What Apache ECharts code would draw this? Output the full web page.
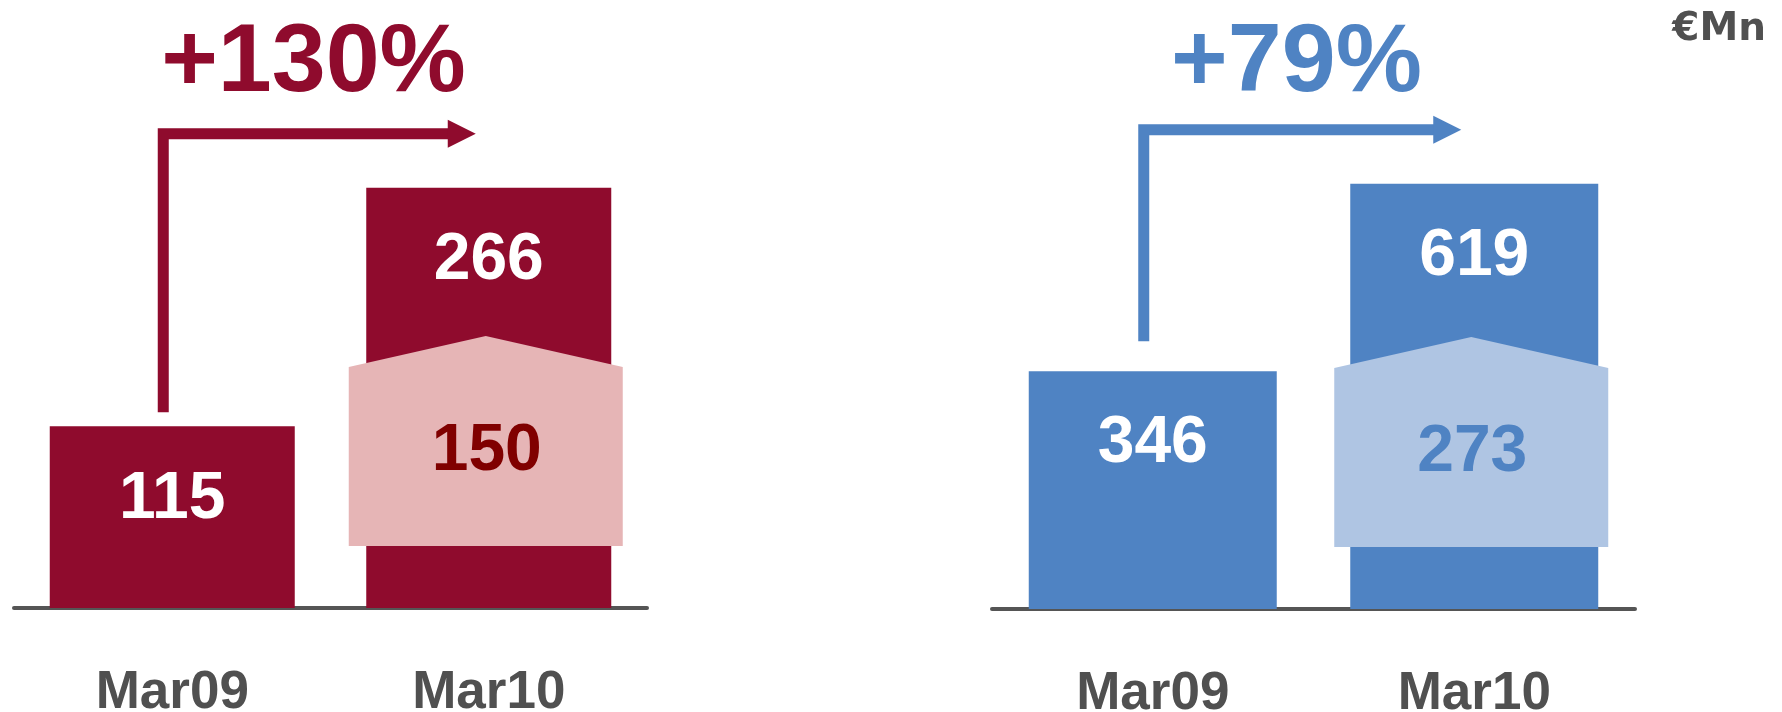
<!DOCTYPE html>
<html>
<head>
<meta charset="utf-8">
<title>Mar09 vs Mar10</title>
<script src="https://cdn.jsdelivr.net/npm/echarts@6/dist/echarts.min.js"></script>
<style>
  html, body { margin: 0; padding: 0; background: #fff; }
  #main { width: 1782px; height: 712px; }
</style>
</head>
<body>
<div id="main"></div>
<script>
var categories = ['Mar09', 'Mar10'];
var leftValues = [115, 266];
var rightValues = [346, 619];
var leftInner = 150;   // part of Mar10, left panel
var rightInner = 273;  // part of Mar10, right panel
var growthLabels = ['+130%', '+79%'];
var yMax = [300, 700];

var RED = '#8F0B2D', PINK = '#E6B5B6', DARKRED = '#800000';
var BLUE = '#4F83C3', LIGHTBLUE = '#AFC5E3';
var GREY = '#505050';
var FONT = '"Liberation Sans", Arial, sans-serif';

var chart = echarts.init(document.getElementById('main'));

function barLabel() {
  return {
    show: true,
    position: ['50%', 73],
    align: 'center',
    verticalAlign: 'middle',
    color: '#fff',
    fontFamily: FONT,
    fontWeight: 'bold',
    fontSize: 66
  };
}

// light "house" shape sitting on the Mar10 bar
function houseRender(fill, textColor) {
  return function (params, api) {
    var p = api.coord([api.value(0), 0]);
    var cx = p[0] - 3, base = p[1];
    var half = 137;
    return {
      type: 'group',
      children: [{
        type: 'polygon',
        shape: { points: [
          [cx - half, base - 62], [cx - half, base - 241], [cx, base - 272],
          [cx + half, base - 241], [cx + half, base - 62]
        ] },
        style: { fill: fill }
      }, {
        type: 'text',
        style: {
          text: String(api.value(1)),
          x: cx + 1, y: base - 156,
          align: 'center', verticalAlign: 'middle',
          fill: textColor,
          font: 'bold 66px ' + FONT
        }
      }]
    };
  };
}

// elbow arrow from Mar09 to Mar10 with growth label
function arrowRender(color, gap, label) {
  return function (params, api) {
    var a = api.coord([api.value(0), api.value(1)]);
    var b = api.coord([api.value(2), api.value(3)]);
    var x0 = a[0] - 9, yb = a[1] - gap;
    var ys = b[1] - 54;
    var tip = b[0] - 13, hb = tip - 28;
    return {
      type: 'group',
      children: [{
        type: 'polyline',
        shape: { points: [[x0, yb], [x0, ys], [hb + 1, ys]] },
        style: { stroke: color, lineWidth: 11, fill: null, lineJoin: 'miter', lineCap: 'butt' }
      }, {
        type: 'polygon',
        shape: { points: [[hb, ys - 14], [tip, ys], [hb, ys + 14]] },
        style: { fill: color }
      }, {
        type: 'text',
        style: {
          text: label,
          x: (x0 + tip) / 2 - 6, y: 64,
          align: 'center', verticalAlign: 'middle',
          fill: color,
          font: 'bold 97px ' + FONT
        }
      }]
    };
  };
}

function xAxis(idx) {
  return {
    type: 'category',
    gridIndex: idx,
    data: categories,
    axisLine: { lineStyle: { color: '#555555', width: 4, cap: 'round' } },
    axisTick: { show: false },
    axisLabel: {
      margin: 85,
      verticalAlign: 'middle',
      color: GREY,
      fontFamily: FONT,
      fontWeight: 'bold',
      fontSize: 53
    }
  };
}

function yAxis(idx) {
  return {
    type: 'value',
    gridIndex: idx,
    min: 0,
    max: yMax[idx],
    show: false,
    splitLine: { show: false }
  };
}

var option = {
  backgroundColor: '#fff',
  animation: false,
  grid: [
    { left: 14, width: 633, top: 134, bottom: 104, outerBoundsMode: 'none', containLabel: false },
    { left: 992, width: 643, top: 128, bottom: 103, outerBoundsMode: 'none', containLabel: false }
  ],
  xAxis: [xAxis(0), xAxis(1)],
  yAxis: [yAxis(0), yAxis(1)],
  graphic: [{
    type: 'text',
    right: 16, top: 10,
    style: { text: '€Mn', fill: GREY, font: 'bold 39px "DejaVu Sans", sans-serif' }
  }],
  series: [
    {
      type: 'bar', xAxisIndex: 0, yAxisIndex: 0,
      data: leftValues, barWidth: 245,
      itemStyle: { color: RED },
      label: barLabel()
    },
    {
      type: 'bar', xAxisIndex: 1, yAxisIndex: 1,
      data: rightValues, barWidth: 248,
      itemStyle: { color: BLUE },
      label: barLabel()
    },
    {
      type: 'custom', xAxisIndex: 0, yAxisIndex: 0,
      data: [[1, leftInner]],
      renderItem: houseRender(PINK, DARKRED), z: 3
    },
    {
      type: 'custom', xAxisIndex: 1, yAxisIndex: 1,
      data: [[1, rightInner]],
      renderItem: houseRender(LIGHTBLUE, BLUE), z: 3
    },
    {
      type: 'custom', xAxisIndex: 0, yAxisIndex: 0,
      data: [[0, leftValues[0], 1, leftValues[1]]],
      encode: { x: [0, 2], y: [1, 3] },
      renderItem: arrowRender(RED, 14, growthLabels[0]), z: 3
    },
    {
      type: 'custom', xAxisIndex: 1, yAxisIndex: 1,
      data: [[0, rightValues[0], 1, rightValues[1]]],
      encode: { x: [0, 2], y: [1, 3] },
      renderItem: arrowRender(BLUE, 30, growthLabels[1]), z: 3
    }
  ]
};

chart.setOption(option);
</script>
</body>
</html>
